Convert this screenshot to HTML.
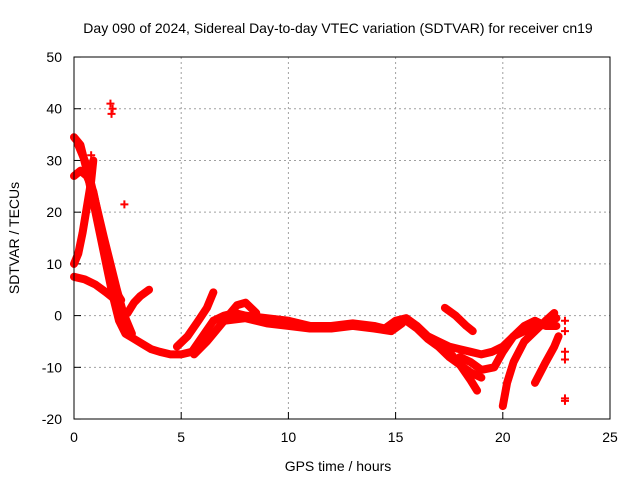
<!DOCTYPE html>
<html><head><meta charset="utf-8">
<style>
body{margin:0;background:#fff;}
svg{display:block;font-family:"Liberation Sans",sans-serif;}
</style></head>
<body>
<svg id="chart" width="640" height="480">
<text x="338" y="33" text-anchor="middle" font-size="14">Day 090 of 2024, Sidereal Day-to-day VTEC variation (SDTVAR) for receiver cn19</text>
<text x="338" y="471" text-anchor="middle" font-size="14">GPS time / hours</text>
<text transform="translate(19,238) rotate(-90)" text-anchor="middle" font-size="14">SDTVAR / TECUs</text>
<g id="grid"></g><g id="ticks"></g><g id="marks"></g>
<rect x="74" y="57" width="536" height="362" fill="none" stroke="#000" stroke-width="1"/>
</svg>
<script>
const xTicks=[0,5,10,15,20,25];
const yTicks=[-20,-10,0,10,20,30,40,50];
const trackMainH=[0,0.3,0.6,0.9,1.2,1.5,1.8,2.1,2.4,2.8,3.2,3.6,4.0,4.5,5.0,5.5,6.0,6.5,7,7.5,8,9,10,11,12,13,14,14.5,15,15.5,16,16.5,17,17.5,18,18.5,19,19.5,20,20.5,21,21.5,22,22.5];
const trackMainV=[34.5,33,28,22,16,10,4,-1,-3.5,-4.5,-5.5,-6.5,-7,-7.5,-7.5,-7,-4,-1,0,0.5,0,-0.5,-1,-2,-2,-1.5,-2,-2.5,-1,-0.5,-2,-4,-5,-6,-6.5,-7,-7.5,-7,-6,-4,-3,-2.5,-1.5,-0.5];
const trackMain2H=[0.2,0.6,1.0,1.4,1.7,2.0,2.3,2.7];
const trackMain2V=[33,29,22,15,10,5,0.5,-3.5];
const trackMidH=[7,8,9,10,11,12,13,14,14.8,15.3];
const trackMidV=[-1,-0.5,-1.5,-2,-2.5,-2.5,-2,-2.5,-3,-1.5];
const trackBH=[0,0.3,0.6,0.9,1.1,1.3,1.5,1.7,1.9,2.2];
const trackBV=[27,28,27,24,20,16,12,8,5,3];
const trackCH=[0,0.2,0.4,0.6,0.8,0.9];
const trackCV=[10,12,16,21,26,30];
const trackDH=[0,0.5,1,1.5,1.8];
const trackDV=[7.5,7,6,4.5,3.5];
const trackEH=[2.5,2.8,3.1,3.5];
const trackEV=[0.5,2.5,3.8,5];
const trackFH=[4.8,5.3,5.8,6.2,6.5];
const trackFV=[-6,-4,-1,1.5,4.5];
const trackGH=[5.6,6.2,6.8,7.2,7.6,8,8.5];
const trackGV=[-7.5,-5,-2,0,2,2.5,0.5];
const trackHH=[15.5,16,16.5,17,17.5,18,18.5,19];
const trackHV=[-1,-2.5,-4.5,-6,-8,-9.5,-11,-12];
const trackIH=[17.3,17.8,18.3,18.6];
const trackIV=[1.5,0,-2,-3];
const trackJH=[17.5,18,18.5,18.8];
const trackJV=[-7,-9.5,-12.5,-14.5];
const trackKH=[20,20.2,20.5,21,21.5,22,22.4];
const trackKV=[-17.5,-13,-9,-5,-3,-1,0.5];
const trackLH=[21.5,22,22.4,22.6];
const trackLV=[-13,-9,-6,-4];
const trackMH=[18,18.5,19,19.6,20,20.5,21,21.5,22,22.5];
const trackMV=[-8,-9,-10.5,-10,-7,-4,-2,-1,-2,-2];
const dotsH=[1.7,1.75,1.8,2.35,0.8,22.9,22.9,22.9,22.9,22.9,22.9];
const dotsV=[41,39,40,21.5,31,-7,-8.5,-16.5,-1,-3,-16];

const NS="http://www.w3.org/2000/svg";
const X=h=>74+h*536/25, Y=v=>315.6-v*362/70;
const grid=document.getElementById('grid'),ticks=document.getElementById('ticks'),marks=document.getElementById('marks');
function el(t,a,p){const e=document.createElementNS(NS,t);for(const k in a)e.setAttribute(k,a[k]);p.appendChild(e);return e;}
xTicks.forEach(t=>{const x=X(t);
 if(t>0&&t<25){const g=el('line',{x1:x,x2:x,y1:57,y2:419,stroke:'#a0a0a0','stroke-dasharray':'2,3'},grid);
 
 }
 const l=el('line',{x1:x,x2:x,y1:419,y2:412,stroke:'#000'},ticks);
 
 
 const tx=el('text',{x:x,y:442,'text-anchor':'middle','font-size':14},ticks);tx.textContent=t;
 
 });
yTicks.forEach(t=>{const y=Y(t);
 if(t>-20&&t<50){const g=el('line',{x1:74,x2:610,y1:y,y2:y,stroke:'#a0a0a0','stroke-dasharray':'2,3'},grid);
 
 }
 const l=el('line',{x1:74,x2:81,y1:y,y2:y,stroke:'#000'},ticks);
 
 
 const tx=el('text',{x:62,y:y+5,'text-anchor':'end','font-size':14},ticks);tx.textContent=t;
 
 });
const tracks=[[trackMainH,trackMainV],[trackMain2H,trackMain2V],[trackMidH,trackMidV],[trackBH,trackBV],[trackCH,trackCV],[trackDH,trackDV],[trackEH,trackEV],[trackFH,trackFV],[trackGH,trackGV],[trackHH,trackHV],[trackIH,trackIV],[trackJH,trackJV],[trackKH,trackKV],[trackLH,trackLV],[trackMH,trackMV]];
tracks.forEach(([hs,vs])=>{
 const p=el('polyline',{points:hs.map((h,i)=>X(h)+','+Y(vs[i])).join(' '),fill:'none',stroke:'#ff0000','stroke-width':8,'stroke-linejoin':'round','stroke-linecap':'round'},marks);
 
 });
dotsH.forEach((h,i)=>{const x=X(h),y=Y(dotsV[i]);
 const p=el('path',{d:`M${x-4},${y}H${x+4}M${x},${y-4}V${y+4}`,stroke:'#ff0000','stroke-width':2},marks);
 
 });
</script>
</body></html>
